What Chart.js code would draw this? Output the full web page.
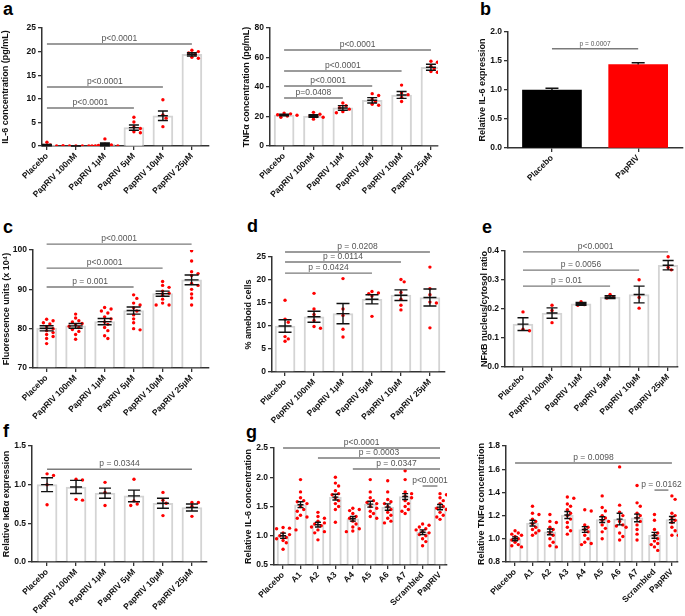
<!DOCTYPE html>
<html>
<head>
<meta charset="utf-8">
<script src="https://cdn.jsdelivr.net/npm/chart.js@4.4.1/dist/chart.umd.min.js"></script>
<style>
  body { margin: 0; width: 685px; height: 616px; overflow: hidden; background: #fff; position: relative; font-family: Arial, "Liberation Sans", sans-serif; }
  canvas { position: absolute; }
  .lbl { position: absolute; font-weight: bold; font-size: 18px; line-height: 18px; color: #000; }
</style>
</head>
<body>
<div class="lbl" style="left:3px;top:0px">a</div>
<div class="lbl" style="left:480px;top:0px">b</div>
<div class="lbl" style="left:3px;top:218px">c</div>
<div class="lbl" style="left:247px;top:217px">d</div>
<div class="lbl" style="left:482px;top:218px">e</div>
<div class="lbl" style="left:3px;top:422px">f</div>
<div class="lbl" style="left:246px;top:423px">g</div>
<script>
// categories
const doseCats = ['Placebo', 'PapRIV 100nM', 'PapRIV 1µM', 'PapRIV 5µM', 'PapRIV 10µM', 'PapRIV 25µM'];
const bCats = ['Placebo', 'PapRIV'];
const peptideCats = ['Placebo', 'A1', 'A2', 'A3', 'A4', 'A5', 'A6', 'A7', 'Scrambled', 'PapRIV'];

// a (left) IL-6 pg/mL
const il6Mean = [0.2, 0, 0.35, 3.9, 6.4, 19.4];
const il6Err = [0.15, 0, 0.3, 0.55, 1.0, 0.35];
const il6Pts = [
  [0.8, 0.2, 0.1, 0, 0, 0],
  [0, 0, 0, 0, 0, 0],
  [1.5, 0.4, 0.2, 0.1, 0, 0],
  [6.1, 5.1, 4.0, 3.7, 3.0, 2.8],
  [9.8, 6.6, 5.9, 4.1],
  [20.3, 20.0, 19.7, 19.4, 18.8, 18.6]
];
const il6Sig = [[0, 5, 21.6, 'p<0.0001'], [0, 4, 12.5, 'p<0.0001'], [0, 3, 8.05, 'p<0.0001']];

// a (right) TNFa pg/mL
const tnfMean = [21, 20.3, 25.8, 31, 34.6, 53.4];
const tnfErr = [0.6, 0.9, 1.6, 1.8, 2.3, 2.0];
const tnfPts = [
  [22.3, 21.8, 21.2, 20.8, 20.3, 19.5],
  [22.8, 21.5, 20.5, 20.0, 19.5, 18.2],
  [29.2, 27.3, 26.0, 25.0, 23.3, 22.5],
  [35.5, 34.2, 31.8, 30.2, 28.3, 27.6],
  [41.3, 36.0, 34.8, 33.0, 30.2],
  [57.5, 56.8, 54.0, 52.5, 50.5, 50.0]
];
const tnfSig = [[0, 5, 65.1, 'p<0.0001'], [0, 4, 50.8, 'p<0.0001'], [0, 3, 40.7, 'p<0.0001'], [0, 2, 32.5, 'p=0.0408']];

// b relative IL-6 expression
const bMean = [1.0, 1.44];
const bErr = [0.03, 0.03];
const bSig = [[0, 1, 1.71, 'p = 0.0007']];

// c fluorescence units
const cMean = [80.1, 80.7, 81.8, 84.6, 88.9, 92.4];
const cErr = [0.65, 0.6, 0.8, 0.9, 0.65, 1.25];
const cPts = [
  [82.4, 82.0, 81.5, 81.2, 80.5, 80.0, 79.5, 79.0, 78.5, 78.0, 77.5, 76.2],
  [83.7, 82.7, 82.0, 81.7, 81.3, 81.0, 80.6, 80.3, 79.8, 79.3, 78.5, 77.3],
  [85.4, 85.0, 84.5, 84.0, 83.0, 82.5, 81.7, 81.1, 80.3, 79.5, 78.2, 77.5],
  [88.6, 87.7, 86.5, 86.0, 85.3, 84.5, 83.5, 82.5, 81.5, 80.0, 79.7],
  [92.0, 91.0, 90.5, 89.5, 89.0, 88.5, 87.5, 86.5, 86.0, 86.0],
  [99.8, 97.2, 94.5, 94.0, 93.5, 91.5, 91.0, 90.0, 88.8, 87.8, 86.0]
];
const cSig = [[0, 5, 101.5, 'p<0.0001'], [0, 4, 95.4, 'p<0.0001'], [0, 3, 90.6, 'p = 0.001']];

// d % ameboid cells
const dMean = [10.0, 12.0, 12.7, 15.8, 16.7, 16.2];
const dErr = [1.35, 1.2, 2.2, 1.0, 1.15, 1.85];
const dPts = [
  [15.6, 11.5, 10.8, 7.7, 7.2, 6.7],
  [17.1, 13.7, 12.5, 11.2, 9.9, 9.5],
  [20.3, 13.7, 12.3, 9.3, 7.6],
  [17.5, 17.2, 17.0, 16.5, 12.1],
  [20.1, 19.6, 17.3, 15.8, 14.5, 13.5],
  [22.8, 18.1, 16.8, 15.2, 15.0, 9.6]
];
const dSig = [[0, 5, 26.1, 'p = 0.0208'], [0, 4, 23.9, 'p = 0.0114'], [0, 3, 21.5, 'p = 0.0424']];

// e NFkB nucleus/cytosol ratio
const eMean = [0.148, 0.186, 0.218, 0.241, 0.250, 0.351];
const eErr = [0.022, 0.018, 0.005, 0.005, 0.029, 0.016];
const ePts = [
  [0.19, 0.13, 0.125],
  [0.213, 0.195, 0.153],
  [0.225, 0.215, 0.213],
  [0.250, 0.240, 0.238],
  [0.301, 0.24, 0.203],
  [0.38, 0.343, 0.335]
];
const eSig = [[0, 5, 0.397, 'p<0.0001'], [0, 4, 0.334, 'p = 0.0056'], [0, 3, 0.279, 'p = 0.01']];

// f relative IkBa expression
const fMean = [1.0, 0.97, 0.89, 0.855, 0.76, 0.705];
const fErr = [0.09, 0.085, 0.065, 0.075, 0.065, 0.045];
const fPts = [
  [1.14, 1.12, 1.0, 0.74],
  [1.07, 1.06, 0.81, 0.80],
  [1.03, 0.9, 0.73],
  [1.07, 0.79, 0.75, 0.73],
  [0.9, 0.8, 0.76, 0.6],
  [0.77, 0.77, 0.72, 0.59]
];
const fSig = [[0, 5, 1.2, 'p = 0.0344']];

// g (left) relative IL-6 concentration
const gIl6Mean = [1.0, 1.53, 1.19, 1.66, 1.29, 1.54, 1.49, 1.67, 1.06, 1.49];
const gIl6Err = [0.045, 0.05, 0.04, 0.05, 0.04, 0.05, 0.055, 0.05, 0.04, 0.045];
const gIl6Pts = [
  [1.14, 1.13, 1.12, 1.10, 1.05, 1.02, 1.0, 0.97, 0.95, 0.92, 0.88, 0.77],
  [1.96, 1.75, 1.65, 1.6, 1.58, 1.55, 1.5, 1.45, 1.42, 1.35, 1.32, 1.3],
  [1.4, 1.33, 1.3, 1.25, 1.22, 1.2, 1.17, 1.15, 1.1, 1.07, 1.05, 0.93],
  [2.0, 1.9, 1.85, 1.77, 1.72, 1.7, 1.65, 1.6, 1.55, 1.5, 1.45, 1.23],
  [1.47, 1.45, 1.43, 1.38, 1.33, 1.3, 1.25, 1.2, 1.15, 1.12, 1.08, 1.07],
  [1.96, 1.75, 1.65, 1.6, 1.57, 1.55, 1.5, 1.47, 1.42, 1.38, 1.33, 1.3],
  [1.94, 1.75, 1.62, 1.58, 1.55, 1.5, 1.45, 1.4, 1.35, 1.3, 1.25, 1.22],
  [2.11, 1.96, 1.75, 1.72, 1.68, 1.65, 1.6, 1.55, 1.5, 1.45, 1.42, 1.38],
  [1.2, 1.18, 1.15, 1.12, 1.1, 1.07, 1.05, 1.02, 1.0, 0.95, 0.9, 0.83],
  [1.72, 1.7, 1.65, 1.6, 1.55, 1.5, 1.47, 1.45, 1.4, 1.35, 1.32, 1.28]
];
const gIl6Sig = [[0, 9, 2.5, 'p<0.0001'], [2, 9, 2.33, 'p = 0.0003'], [4, 9, 2.14, 'p = 0.0347'], [8, 8.85, 1.85, 'p<0.0001']];

// g (right) relative TNFa concentration
const gTnfMean = [1.0, 1.135, 1.06, 1.205, 1.08, 1.165, 1.17, 1.18, 1.03, 1.165];
const gTnfErr = [0.017, 0.025, 0.025, 0.03, 0.025, 0.025, 0.05, 0.033, 0.025, 0.027];
const gTnfPts = [
  [1.07, 1.05, 1.04, 1.03, 1.02, 1.0, 0.99, 0.97, 0.95, 0.94, 0.93],
  [1.28, 1.22, 1.21, 1.17, 1.15, 1.13, 1.1, 1.08, 1.07, 1.05, 1.03],
  [1.21, 1.15, 1.14, 1.1, 1.08, 1.05, 1.03, 1.0, 0.97, 0.94, 0.93],
  [1.36, 1.35, 1.3, 1.28, 1.25, 1.22, 1.2, 1.17, 1.14, 1.1, 1.07, 1.04],
  [1.25, 1.24, 1.12, 1.1, 1.08, 1.06, 1.03, 1.0, 0.97, 0.96, 0.95],
  [1.37, 1.27, 1.24, 1.2, 1.18, 1.16, 1.15, 1.12, 1.09, 1.06, 1.0],
  [1.62, 1.29, 1.23, 1.2, 1.15, 1.12, 1.11, 1.1, 1.05, 1.02, 0.99],
  [1.46, 1.31, 1.28, 1.22, 1.2, 1.18, 1.15, 1.12, 1.08, 1.04, 0.99],
  [1.21, 1.16, 1.08, 1.05, 1.03, 1.0, 0.98, 0.96, 0.95, 0.93, 0.9],
  [1.37, 1.34, 1.22, 1.2, 1.18, 1.16, 1.14, 1.1, 1.07, 1.03, 1.03]
];
const gTnfSig = [[0, 9, 1.653, 'p = 0.0098'], [8, 8.8, 1.42, 'p = 0.0162']];

const FONT = 'Arial, "Liberation Sans", sans-serif';

// error bars + significance lines
const overlay = {
  id: 'overlay',
  afterDatasetsDraw(chart, args, o) {
    const ctx = chart.ctx, xs = chart.scales.x, ys = chart.scales.y;
    ctx.save();
    ctx.strokeStyle = '#111';
    ctx.lineWidth = 1.4;
    o.mean.forEach((m, i) => {
      const px = xs.getPixelForValue(i);
      const top = ys.getPixelForValue(m + o.err[i]);
      const bot = ys.getPixelForValue(o.upperOnly ? m : m - o.err[i]);
      const mid = ys.getPixelForValue(m);
      ctx.beginPath();
      ctx.moveTo(px, top); ctx.lineTo(px, bot);
      ctx.moveTo(px - o.cap, top); ctx.lineTo(px + o.cap, top);
      if (!o.upperOnly) {
        ctx.moveTo(px - o.cap, bot); ctx.lineTo(px + o.cap, bot);
        ctx.moveTo(px - o.cap, mid); ctx.lineTo(px + o.cap, mid);
      }
      ctx.stroke();
    });
    ctx.strokeStyle = '#7a7a7a';
    ctx.lineWidth = 1.4;
    ctx.fillStyle = '#555';
    ctx.font = o.sigSize + 'px ' + FONT;
    ctx.textAlign = 'center';
    ctx.textBaseline = 'bottom';
    o.sig.forEach(([a, b, v, t]) => {
      const x1 = xs.getPixelForValue(a), x2 = xs.getPixelForValue(b), py = ys.getPixelForValue(v);
      ctx.beginPath(); ctx.moveTo(x1, py); ctx.lineTo(x2, py); ctx.stroke();
      ctx.fillText(t, (x1 + x2) / 2, py - 1);
    });
    ctx.restore();
  }
};

// spread dots sideways so they don't overlap
function swarm(groups, unitPx, valPx, yMin, dist) {
  const out = [];
  groups.forEach((vals, i) => {
    const placed = [];
    vals.forEach(v => {
      const py = (v - yMin) * valPx;
      let off = 0;
      for (let k = 0; k < 40; k++) {
        const cand = k === 0 ? 0 : (k % 2 ? 1 : -1) * Math.ceil(k / 2) * dist * 0.85;
        if (placed.every(q => Math.hypot(q.x - cand, q.y - py) >= dist)) { off = cand; break; }
      }
      placed.push({ x: off, y: py });
      out.push({ x: i + off / unitPx, y: v });
    });
  });
  return out;
}

function panel(p) {
  const padTop = 28, xh = 62, padRight = 8;
  const left = Math.round(p.titleX - 6);
  const yw = p.x0 - left;
  const plotW = p.x1 - p.x0, plotH = p.yBot - p.yTop;
  const W = yw + plotW + padRight, H = padTop + plotH + xh;
  const cv = document.createElement('canvas');
  cv.width = W; cv.height = H;
  cv.style.left = left + 'px';
  cv.style.top = (p.yTop - padTop) + 'px';
  cv.style.width = W + 'px';
  cv.style.height = H + 'px';
  document.body.appendChild(cv);

  const unitPx = plotW / (p.xMax - p.xMin);
  const valPx = plotH / (p.yMax - p.yMin);
  const pts = p.pts ? swarm(p.pts, unitPx, valPx, p.yMin, 3.8) : [];

  new Chart(cv, {
    type: 'bar',
    data: {
      datasets: [
        { type: 'scatter', order: 1, data: pts, pointRadius: 1.7, pointBackgroundColor: '#ff0000', pointBorderWidth: 0 },
        {
          type: 'bar', order: 2,
          data: p.mean.map((m, i) => ({ x: i, y: m })),
          backgroundColor: p.fill || '#ffffff',
          borderColor: p.edge || '#d4d4d4',
          borderWidth: p.fill ? 0 : 2,
          barThickness: p.barW,
          base: p.yMin
        }
      ]
    },
    options: {
      responsive: false,
      animation: false,
      devicePixelRatio: 1,
      layout: { padding: { left: 0, top: padTop, right: padRight, bottom: 0 } },
      plugins: {
        legend: { display: false },
        tooltip: { enabled: false },
        overlay: { mean: p.mean, err: p.err, cap: p.cap, sig: p.sig, sigSize: p.sigSize || 8.5, upperOnly: p.upperOnly }
      },
      scales: {
        x: {
          type: 'linear', min: p.xMin, max: p.xMax, offset: false,
          afterBuildTicks: s => { s.ticks = p.cats.map((c, i) => ({ value: i })); },
          afterFit: s => { s.height = xh; },
          grid: { display: true, drawOnChartArea: false, drawTicks: true, tickLength: 4, color: '#333', lineWidth: 1.3, offset: false },
          border: { display: true, color: '#333', width: 1.5 },
          ticks: {
            autoSkip: false, minRotation: 45, maxRotation: 45, padding: 1, color: '#111',
            font: { family: FONT, size: 8.5, weight: 'bold' },
            callback: v => p.cats[v]
          }
        },
        y: {
          min: p.yMin, max: p.yMax,
          afterFit: s => { s.width = yw; },
          grid: { display: true, drawOnChartArea: false, drawTicks: true, tickLength: 4, color: '#333', lineWidth: 1.3 },
          border: { display: true, color: '#333', width: 1.5 },
          ticks: {
            stepSize: p.step, padding: 2, color: '#111',
            font: { family: FONT, size: 8.5, weight: 'bold' },
            callback: v => Number(v).toFixed(p.dec)
          },
          title: {
            display: true, text: p.title, color: '#111', padding: 0,
            font: { family: FONT, size: 9, weight: 'bold' }
          }
        }
      }
    },
    plugins: [overlay]
  });
}

panel({ titleX: 6, x0: 42, x1: 209, yTop: 28, yBot: 146, xMin: -0.17, xMax: 5.59, yMin: 0, yMax: 25, step: 5, dec: 0,
  cats: doseCats, mean: il6Mean, err: il6Err, pts: il6Pts, sig: il6Sig, barW: 20, cap: 5, title: 'IL-6 concentration (pg/mL)' });
panel({ titleX: 247, x0: 270, x1: 438, yTop: 28, yBot: 146, xMin: -0.48, xMax: 5.24, yMin: 0, yMax: 80, step: 20, dec: 0,
  cats: doseCats, mean: tnfMean, err: tnfErr, pts: tnfPts, sig: tnfSig, barW: 20, cap: 5, title: 'TNFα concentration (pg/mL)' });
panel({ titleX: 483, x0: 508, x1: 683, yTop: 32, yBot: 148, xMin: -0.51, xMax: 1.52, yMin: 0, yMax: 2, step: 0.5, dec: 1,
  cats: bCats, mean: bMean, err: bErr, sig: bSig, barW: 59, cap: 6.5, upperOnly: true, sigSize: 6.5,
  fill: ['#000000', '#ff0000'], title: 'Relative IL-6 expression' });
panel({ titleX: 7, x0: 33, x1: 209, yTop: 250, yBot: 368, xMin: -0.47, xMax: 5.6, yMin: 70, yMax: 100, step: 10, dec: 0,
  cats: doseCats, mean: cMean, err: cErr, pts: cPts, sig: cSig, barW: 20, cap: 7, title: 'Fluorescence units (x 10⁴)' });
panel({ titleX: 249, x0: 272, x1: 445, yTop: 257, yBot: 372, xMin: -0.45, xMax: 5.52, yMin: 0, yMax: 25, step: 5, dec: 0,
  cats: doseCats, mean: dMean, err: dErr, pts: dPts, sig: dSig, barW: 20, cap: 6.5, title: '% ameboid cells' });
panel({ titleX: 485, x0: 505, x1: 678, yTop: 251, yBot: 367, xMin: -0.62, xMax: 5.34, yMin: 0, yMax: 0.4, step: 0.1, dec: 1,
  cats: doseCats, mean: eMean, err: eErr, pts: ePts, sig: eSig, barW: 20, cap: 5.5, title: 'NFκB nucleus/cytosol ratio' });
panel({ titleX: 7, x0: 32, x1: 207, yTop: 446, yBot: 562, xMin: -0.52, xMax: 5.52, yMin: 0, yMax: 1.5, step: 0.5, dec: 1,
  cats: doseCats, mean: fMean, err: fErr, pts: fPts, sig: fSig, barW: 20, cap: 6, title: 'Relative IκBα expression' });
panel({ titleX: 249, x0: 274, x1: 447, yTop: 448, yBot: 565, xMin: -0.52, xMax: 9.4, yMin: 0.5, yMax: 2.5, step: 0.5, dec: 1,
  cats: peptideCats, mean: gIl6Mean, err: gIl6Err, pts: gIl6Pts, sig: gIl6Sig, barW: 12, cap: 3, title: 'Relative IL-6 concentration' });
panel({ titleX: 482, x0: 506, x1: 678, yTop: 446, yBot: 562, xMin: -0.52, xMax: 9.35, yMin: 0.8, yMax: 1.8, step: 0.2, dec: 1,
  cats: peptideCats, mean: gTnfMean, err: gTnfErr, pts: gTnfPts, sig: gTnfSig, barW: 12, cap: 3, title: 'Relative TNFα concentration' });
</script>
</body>
</html>
